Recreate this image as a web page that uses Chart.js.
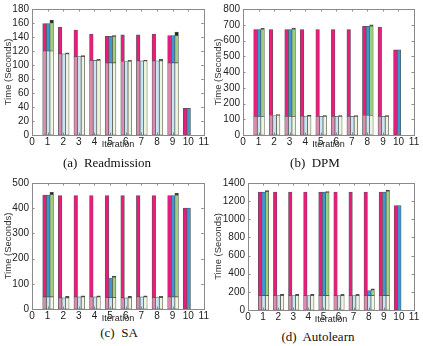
<!DOCTYPE html>
<html><head><meta charset="utf-8">
<script src="https://cdn.jsdelivr.net/npm/chart.js@4/dist/chart.umd.min.js"></script>
<style>
html,body{margin:0;padding:0;background:#fff;}
#wrap{position:relative;width:423px;height:346px;overflow:hidden;background:#fff;}
canvas{position:absolute;}
.cap{position:absolute;font-family:'Liberation Serif','Times New Roman',serif;font-size:13px;color:#111;white-space:pre;transform:translate(-50%,-50%);}
</style></head><body>
<div id="wrap">
<canvas id="ca" width="210" height="152" style="left:0;top:0"></canvas>
<canvas id="cb" width="213" height="152" style="left:210px;top:0"></canvas>
<canvas id="cc" width="210" height="155" style="left:0;top:170px"></canvas>
<canvas id="cd" width="213" height="156" style="left:210px;top:170px"></canvas>
<div class="cap" style="left:107px;top:163px">(a)  Readmission</div>
<div class="cap" style="left:315px;top:163px">(b)  DPM</div>
<div class="cap" style="left:119px;top:333px">(c)  SA</div>
<div class="cap" style="left:318px;top:337px">(d)  Autolearn</div>
</div>
<script>
// ---- data ----
const iterations = [1, 2, 3, 4, 5, 6, 7, 8, 9, 10];
const xTicks = [0, 1, 2, 3, 4, 5, 6, 7, 8, 9, 10, 11];
const captions = ["(a) Readmission", "(b) DPM", "(c) SA", "(d) Autolearn"];

// Readmission
const baseA  = [120, 116, 112, 106.5, 103, 105, 106, 106, 103, 0];
const pinkA  = [159, 154, 150, 144, 141, 143, 143, 144, 142, 38];
const blueA  = [159, 116, 112, 106.5, 141, 105, 106, 106, 142, 38];
const greenA = [160, 116, 112, 106.5, 141, 105, 106, 106, 142, null];
const capA   = [164, 117.5, 113.5, 108, 142, 106.5, 107, 108, 147, null];
const yTicksA = [0, 20, 40, 60, 80, 100, 120, 140, 160, 180];

// DPM
const baseB  = [118, 124, 118, 120, 118, 118, 118, 124, 118, 0];
const pinkB  = [670, 670, 670, 670, 670, 670, 670, 690, 686, 540];
const blueB  = [670, 124, 670, 120, 118, 118, 118, 690, 118, 540];
const greenB = [670, 124, 670, 120, 118, 118, 118, 692, 118, null];
const capB   = [677, 130, 679, 127, 124, 124, 123, 699, 124, null];
const yTicksB = [0, 100, 200, 300, 400, 500, 600, 700, 800];

// SA
const baseC  = [48, 44, 48, 48, 45, 44, 48, 45, 48, 0];
const pinkC  = [452, 450, 450, 450, 450, 450, 450, 450, 450, 400];
const blueC  = [452, 44, 48, 48, 123, 44, 48, 45, 450, 400];
const greenC = [454, 44, 48, 48, 126, 44, 48, 45, 452, null];
const capC   = [463, 50, 52, 52, 131, 50, 52, 50, 459, null];
const yTicksC = [0, 100, 200, 300, 400, 500];

// Autolearn
const baseD  = [158, 158, 158, 158, 158, 158, 158, 158, 158, 0];
const pinkD  = [1300, 1300, 1300, 1300, 1300, 1300, 1300, 1300, 1300, 1150];
const blueD  = [1300, 158, 158, 158, 1300, 158, 158, 213, 1300, 1150];
const greenD = [1305, 158, 158, 158, 1295, 158, 158, 221, 1310, null];
const capD   = [1317, 174, 174, 174, 1305, 172, 172, 234, 1322, null];
const yTicksD = [0, 200, 400, 600, 800, 1000, 1200, 1400];

// ---- styling ----
const COL = {
  pinkBase: '#d98cab', pinkTop: '#ec1a7b',
  blueBase: '#c9e4f4', blueTop: '#3b98d7',
  greenBase: '#eef5dd', greenTop: '#9fcf7c',
  cap: '#1a2a1a', edge: '#555555'
};
const OFF = { pink: -0.2, blue: 0.03, green: 0.26 };

function seg(label, color, pts) {
  return { label, data: pts, backgroundColor: color, borderColor: COL.edge,
    borderWidth: 0.7, borderSkipped: false, grouped: false,
    barPercentage: 1, categoryPercentage: 1 };
}

function buildDatasets(base, pink, blue, green, cap) {
  const pb = [], pt = [], bb = [], bt = [], gb = [], gt = [], cp = [];
  iterations.forEach((it, i) => {
    const b = base[i];
    if (b > 0) pb.push({ x: it + OFF.pink, y: [0, b] });
    if (pink[i] > b) pt.push({ x: it + OFF.pink, y: [b, pink[i]] });
    if (blue[i] != null) {
      if (b > 0) bb.push({ x: it + OFF.blue, y: [0, b] });
      if (blue[i] > b) bt.push({ x: it + OFF.blue, y: [b, blue[i]] });
    }
    if (green[i] != null) {
      if (b > 0) gb.push({ x: it + OFF.green, y: [0, b] });
      if (green[i] > b) gt.push({ x: it + OFF.green, y: [b, green[i]] });
      if (cap[i] != null && cap[i] > green[i]) cp.push({ x: it + OFF.green, y: [green[i], cap[i]] });
    }
  });
  return [
    seg('pink base', COL.pinkBase, pb), seg('pink', COL.pinkTop, pt),
    seg('blue base', COL.blueBase, bb), seg('blue', COL.blueTop, bt),
    seg('green base', COL.greenBase, gb), seg('green', COL.greenTop, gt),
    seg('cap', COL.cap, cp)
  ];
}

const boxPlugin = {
  id: 'boxPlugin',
  afterDatasetsDraw(chart) {
    const { ctx, chartArea: a, scales: { x, y } } = chart;
    ctx.save();
    ctx.strokeStyle = '#8a8a8a';
    ctx.lineWidth = 1;
    ctx.strokeRect(Math.round(a.left) + 0.5, Math.round(a.top) + 0.5,
      Math.round(a.right - a.left), Math.round(a.bottom - a.top));
    ctx.beginPath();
    x.ticks.forEach(t => {
      const px = Math.round(x.getPixelForValue(t.value)) + 0.5;
      ctx.moveTo(px, a.bottom); ctx.lineTo(px, a.bottom - 2.5);
      ctx.moveTo(px, a.top); ctx.lineTo(px, a.top + 2.5);
    });
    y.ticks.forEach(t => {
      const py = Math.round(y.getPixelForValue(t.value)) + 0.5;
      ctx.moveTo(a.left, py); ctx.lineTo(a.left + 2.5, py);
      ctx.moveTo(a.right, py); ctx.lineTo(a.right - 2.5, py);
    });
    ctx.stroke();
    ctx.restore();
  }
};

const FONT = "'Liberation Sans', Arial, sans-serif";

function makeChart(id, ds, yTicks, yAxisW, pad) {
  const yMax = yTicks[yTicks.length - 1];
  new Chart(document.getElementById(id), {
    type: 'bar',
    data: { datasets: ds },
    plugins: [boxPlugin],
    options: {
      responsive: false, animation: false,
      layout: { padding: pad },
      plugins: { legend: { display: false }, tooltip: { enabled: false } },
      scales: {
        x: {
          type: 'linear', offset: false, min: xTicks[0], max: xTicks[xTicks.length - 1],
          grid: { display: false, drawTicks: false, offset: false }, border: { display: false },
          afterBuildTicks: s => { s.ticks = xTicks.map(v => ({ value: v })); },
          afterFit: s => { s.height = 15; },
          ticks: { padding: 1, color: '#222', maxRotation: 0, autoSkip: false,
            callback: v => String(v),
            font: { family: FONT, size: 10 } },
          title: { display: true, text: 'Iteration', color: '#222', padding: 0,
            font: { family: FONT, size: 9 } }
        },
        y: {
          min: 0, max: yMax,
          grid: { display: false, drawTicks: false }, border: { display: false },
          afterBuildTicks: s => { s.ticks = yTicks.map(v => ({ value: v })); },
          afterFit: s => { s.width = yAxisW; },
          ticks: { padding: 3, color: '#222', autoSkip: false,
            callback: v => String(v),
            font: { family: FONT, size: 10 } },
          title: { display: true, text: 'Time (Seconds)', color: '#333', padding: { top: 3, bottom: 0 },
            font: { family: FONT, size: 9.5 } }
        }
      }
    }
  });
}

makeChart('ca', buildDatasets(baseA, pinkA, blueA, greenA, capA), yTicksA, 32, { top: 8, right: 6, bottom: 2, left: 0 });
makeChart('cb', buildDatasets(baseB, pinkB, blueB, greenB, capB), yTicksB, 33, { top: 8, right: 9, bottom: 2, left: 0 });
makeChart('cc', buildDatasets(baseC, pinkC, blueC, greenC, capC), yTicksC, 32, { top: 13, right: 6, bottom: 1, left: 0 });
makeChart('cd', buildDatasets(baseD, pinkD, blueD, greenD, capD), yTicksD, 38, { top: 13, right: 9, bottom: 1, left: 0 });
</script>
</body></html>
